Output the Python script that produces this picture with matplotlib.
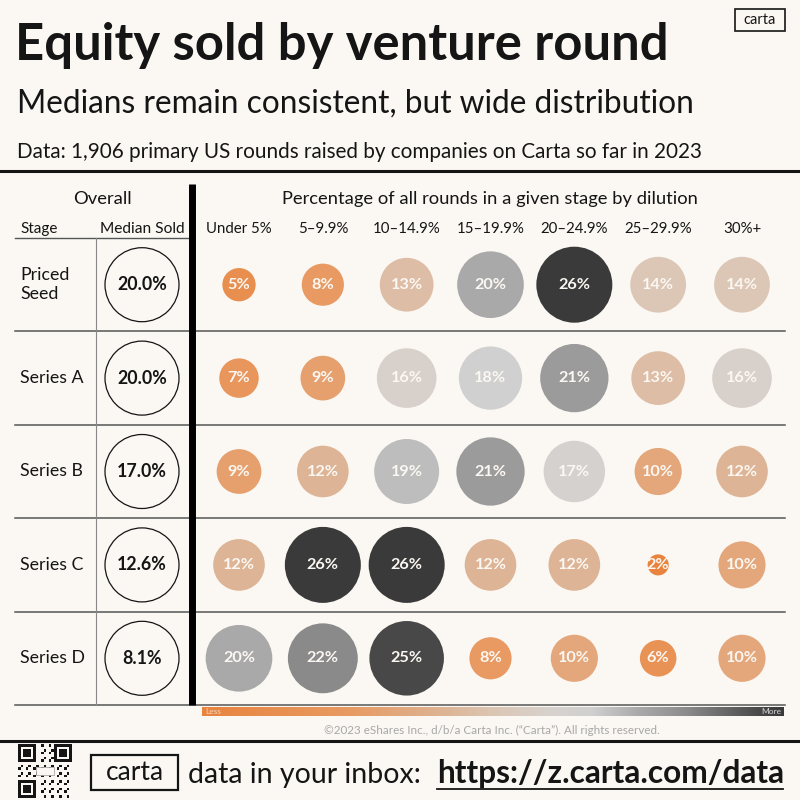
import numpy as np
import matplotlib
matplotlib.use("Agg")
import matplotlib.pyplot as plt
from matplotlib.patches import Circle, Rectangle
from matplotlib.colors import LinearSegmentedColormap

plt.rcParams['font.family'] = ['Lato', 'DejaVu Sans']

# ---- data ----
stages = ["Priced\nSeed", "Series A", "Series B", "Series C", "Series D"]
median_sold = ["20.0%", "20.0%", "17.0%", "12.6%", "8.1%"]
buckets = ["Under 5%", "5–9.9%", "10–14.9%", "15–19.9%", "20–24.9%", "25–29.9%", "30%+"]
seed = [5, 8, 13, 20, 26, 14, 14]
series_a = [7, 9, 16, 18, 21, 13, 16]
series_b = [9, 12, 19, 21, 17, 10, 12]
series_c = [12, 26, 26, 12, 12, 2, 10]
series_d = [20, 22, 25, 8, 10, 6, 10]
shares = np.array([seed, series_a, series_b, series_c, series_d])

BG = "#fbf8f3"
INK = "#151515"

cmap = LinearSegmentedColormap.from_list("carta", [
    (0.00, "#e8843e"), (0.25, "#e89a62"), (0.42, "#ddb596"), (0.50, "#dcc6b4"),
    (0.60, "#d7d2ce"), (0.67, "#d0d0d0"), (0.75, "#aaaaaa"), (0.83, "#8d8d8d"),
    (0.96, "#484848"), (1.00, "#3a3a3a")])
vmin, vmax = 2, 26

fig = plt.figure(figsize=(8, 8), dpi=100, facecolor=BG)
ax = fig.add_axes([0, 0, 1, 1])
ax.set_xlim(0, 800)
ax.set_ylim(800, 0)
ax.axis('off')

# ---- header ----
ax.text(15, 60, "Equity sold by venture round", fontsize=36.5, weight='bold', color=INK, va='baseline')
ax.text(17, 113, "Medians remain consistent, but wide distribution", fontsize=22.8, color=INK, va='baseline')
ax.text(17, 158, "Data: 1,906 primary US rounds raised by companies on Carta so far in 2023", fontsize=14.9, color=INK, va='baseline')
ax.add_patch(Rectangle((735, 9), 50, 22, fill=False, ec=INK, lw=1.2))
ax.text(760, 20, "carta", fontsize=10.5, ha='center', va='center', color=INK)
ax.plot([0, 800], [171, 171], color=INK, lw=2.2)

# ---- table header ----
col_x = np.linspace(239, 742, len(buckets))
row_lines = np.linspace(238, 705, len(stages) + 1)
row_y = (row_lines[:-1] + row_lines[1:]) / 2

ax.text(102, 199, "Overall", fontsize=13.2, ha='center', va='center', color=INK)
ax.text(490, 199, "Percentage of all rounds in a given stage by dilution", fontsize=13.2, ha='center', va='center', color=INK)
ax.text(20, 229, "Stage", fontsize=11, ha='left', va='center', color=INK)
ax.text(142, 229, "Median Sold", fontsize=11.2, ha='center', va='center', color=INK)
for x, b in zip(col_x, buckets):
    ax.text(x, 229, b, fontsize=10.8, ha='center', va='center', color=INK)

ax.plot([15, 190], [row_lines[0], row_lines[0]], color="#555555", lw=1)
for y in row_lines[1:]:
    ax.plot([15, 785], [y, y], color="#555555", lw=1.1)
ax.plot([96, 96], [row_lines[0], row_lines[-1]], color="#888888", lw=0.8)
ax.plot([192, 192], [184, row_lines[-1]], color="black", lw=5, solid_capstyle='butt')

# ---- rows ----
for i, y in enumerate(row_y):
    ax.text(20, y, stages[i], fontsize=12.8, ha='left', va='center', color=INK, linespacing=1.2)
    ax.add_patch(Circle((142, y), 37, fill=False, ec=INK, lw=0.9))
    ax.text(142, y, median_sold[i], fontsize=12.8, weight='bold', ha='center', va='center', color=INK)
    for j, x in enumerate(col_x):
        v = shares[i, j]
        r = 38 * np.sqrt(v / 26)
        c = cmap((v - vmin) / (vmax - vmin))
        ax.add_patch(Circle((x, y), r, fc=c, ec='none'))
        ax.text(x, y, f"{v}%", fontsize=11.7, weight='bold', ha='center', va='center', color="#fbf7f2")

# ---- legend gradient ----
grad = np.linspace(0, 1, 256)[None, :]
ax.imshow(grad, cmap=cmap, aspect='auto', extent=(202, 784, 716, 707), zorder=1)
ax.text(205, 712, "Less", fontsize=6, color="#f6d7bd", ha='left', va='center')
ax.text(781, 712, "More", fontsize=6, color="#d8d8d8", ha='right', va='center')
ax.text(492, 730, "©2023 eShares Inc., d/b/a Carta Inc. (“Carta”). All rights reserved.",
        fontsize=8.4, color="#a8a8a8", ha='center', va='center')
ax.plot([0, 800], [741, 741], color=INK, lw=2.2)

# ---- footer ----
qx, qy, qs = 18, 744, 54
n = 21
m = qs / n
ii, jj = np.indices((n, n))
mods = ((ii * jj + ii + 2 * jj) % 3 == 0)
for fi, fj in [(0, 0), (0, n - 7), (n - 7, 0)]:
    mods[fi:fi + 8, fj:fj + 8] = False
for a, b in zip(*np.nonzero(mods)):
    ax.add_patch(Rectangle((qx + b * m, qy + a * m), m, m, fc=INK, ec='none'))
for fi, fj in [(0, 0), (0, n - 7), (n - 7, 0)]:
    ax.add_patch(Rectangle((qx + fj * m, qy + fi * m), 7 * m, 7 * m, fc=INK, ec='none'))
    ax.add_patch(Rectangle((qx + (fj + 1) * m, qy + (fi + 1) * m), 5 * m, 5 * m, fc=BG, ec='none'))
    ax.add_patch(Rectangle((qx + (fj + 2) * m, qy + (fi + 2) * m), 3 * m, 3 * m, fc=INK, ec='none'))
ax.add_patch(Rectangle((qx + 7 * m, qy + 9 * m), 7 * m, 3 * m, fc=BG, ec="#999999", lw=0.5))

ax.add_patch(Rectangle((91, 755), 87, 35, fill=False, ec=INK, lw=1.6))
ax.text(134.5, 772, "carta", fontsize=19, ha='center', va='center', color=INK)
ax.text(188, 783, "data in your inbox:", fontsize=20.5, ha='left', va='baseline', color=INK)
ax.text(437, 783, "https://z.carta.com/data", fontsize=22.8, weight='bold', ha='left', va='baseline', color=INK)
ax.plot([437, 783], [789, 789], color=INK, lw=1.3)

fig.savefig("out.png", dpi=100, facecolor=BG)
